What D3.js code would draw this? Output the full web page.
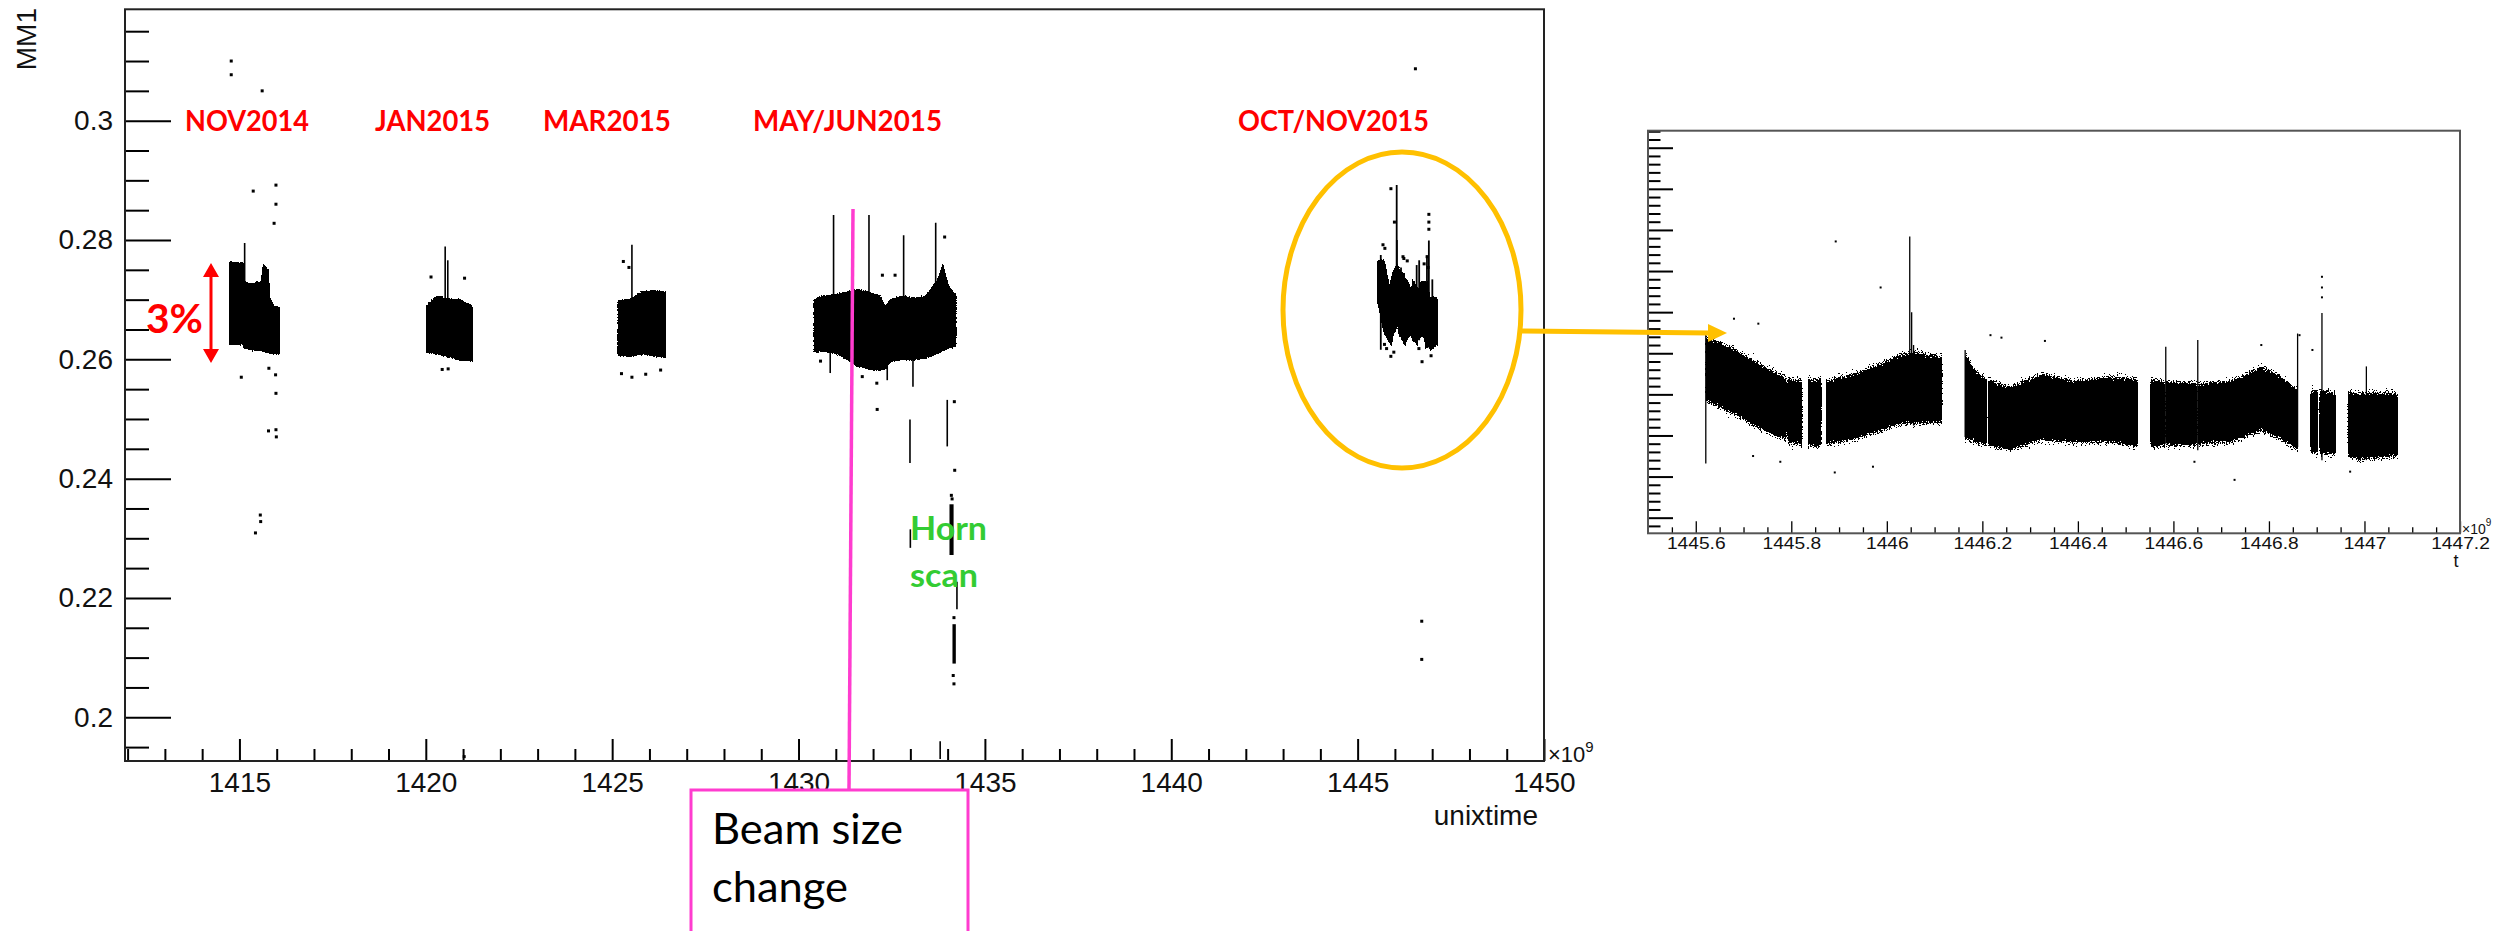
<!DOCTYPE html>
<html>
<head>
<meta charset="utf-8">
<script src="https://cdn.jsdelivr.net/npm/d3@7"></script>
<style>
  body { margin: 0; background: #fff; }
  svg { display: block; background: #fff; }
</style>
</head>
<body>
<svg id="chart" width="2498" height="931"></svg>
<script>
// unixtime in units of 1e9 s (x axis shows e.g. 1415), MM1 value on y

// main plot tick labels
const xTicks = [1415, 1420, 1425, 1430, 1435, 1440, 1445, 1450];
const yTicks = [0.2, 0.22, 0.24, 0.26, 0.28, 0.3];

// inset tick labels
const insetXTicks = [1445.6, 1445.8, 1446, 1446.2, 1446.4, 1446.6, 1446.8, 1447, 1447.2];
const insetYTicks = [0.255, 0.26, 0.265, 0.27, 0.275, 0.28, 0.285, 0.29, 0.295, 0.3];

// dense bands: [t, low, high]
const bandNov2014a = [[1414.75, 0.2626, 0.2763], [1415.09, 0.2626, 0.2760]];
const bandNov2014b = [[1415.13, 0.2620, 0.2728], [1415.35, 0.2616, 0.2726], [1415.60, 0.2616, 0.2730],
  [1415.65, 0.2614, 0.2757], [1415.76, 0.2613, 0.2750], [1415.80, 0.2612, 0.2705],
  [1415.89, 0.2610, 0.2690], [1416.06, 0.2610, 0.2685]];
const bandJan2015 = [[1420.04, 0.2612, 0.2690], [1420.30, 0.2610, 0.2705], [1420.60, 0.2605, 0.2700],
  [1420.90, 0.2600, 0.2700], [1421.24, 0.2598, 0.2688]];
const bandMar2015 = [[1425.17, 0.2608, 0.2697], [1425.50, 0.2606, 0.2700], [1425.80, 0.2610, 0.2712],
  [1426.10, 0.2607, 0.2714], [1426.42, 0.2604, 0.2712]];
const bandMayJun2015 = [[1430.43, 0.2613, 0.2700], [1430.64, 0.2615, 0.2705], [1431.02, 0.2610, 0.2708],
  [1431.33, 0.2600, 0.2712], [1431.56, 0.2590, 0.2716], [1431.87, 0.2585, 0.2712],
  [1432.18, 0.2582, 0.2705], [1432.33, 0.2585, 0.2686], [1432.48, 0.2598, 0.2700],
  [1432.79, 0.2600, 0.2705], [1433.10, 0.2600, 0.2702], [1433.41, 0.2603, 0.2705],
  [1433.72, 0.2610, 0.2730], [1433.87, 0.2615, 0.2755], [1434.02, 0.2620, 0.2720],
  [1434.21, 0.2622, 0.2708]];

// Oct/Nov 2015 run, shown in both the main plot and the inset
const octNovBands = [
  [[1445.622, 0.2695, 0.2766], [1445.678, 0.2680, 0.2752], [1445.734, 0.2662, 0.2733], [1445.789, 0.2648, 0.2717]],
  [[1445.793, 0.2645, 0.2716], [1445.822, 0.2642, 0.2713]],
  [[1445.836, 0.2641, 0.2714], [1445.862, 0.2640, 0.2715]],
  [[1445.874, 0.2642, 0.2713], [1445.937, 0.2650, 0.2722], [1445.991, 0.2660, 0.2735],
   [1446.030, 0.2668, 0.2745], [1446.057, 0.2668, 0.2748], [1446.115, 0.2669, 0.2742]],
  [[1446.165, 0.2650, 0.2745], [1446.185, 0.2645, 0.2725], [1446.209, 0.2642, 0.2715]],
  [[1446.213, 0.2641, 0.2714], [1446.257, 0.2636, 0.2705], [1446.324, 0.2648, 0.2721],
   [1446.391, 0.2645, 0.2713], [1446.471, 0.2645, 0.2717], [1446.524, 0.2640, 0.2715]],
  [[1446.553, 0.2640, 0.2715], [1446.582, 0.2641, 0.2712]],
  [[1446.586, 0.2641, 0.2712], [1446.649, 0.2642, 0.2710]],
  [[1446.653, 0.2642, 0.2709], [1446.724, 0.2646, 0.2713], [1446.784, 0.2660, 0.2730],
   [1446.820, 0.2650, 0.2720], [1446.860, 0.2636, 0.2701]],
  [[1446.888, 0.2632, 0.2700], [1446.902, 0.2632, 0.2702]],
  [[1446.907, 0.2630, 0.2702], [1446.939, 0.2632, 0.2698]],
  [[1446.966, 0.2628, 0.2700], [1446.990, 0.2624, 0.2697], [1447.030, 0.2627, 0.2699], [1447.069, 0.2628, 0.2697]]
];
const octNovSpikes = [[1445.621, 0.2616, 0.2775], [1446.048, 0.2670, 0.2892], [1446.052, 0.2665, 0.2800],
  [1446.056, 0.2662, 0.2760], [1446.164, 0.2648, 0.2754], [1446.584, 0.2640, 0.2758],
  [1446.651, 0.2632, 0.2766], [1446.860, 0.2636, 0.2774], [1446.911, 0.2620, 0.2799],
  [1447.004, 0.2620, 0.2734]];
const octNovPoints = [[1445.893, 0.2886], [1445.987, 0.2830], [1445.680, 0.2792], [1445.731, 0.2786],
  [1446.217, 0.2772], [1446.240, 0.2769], [1446.331, 0.2765], [1446.784, 0.2760], [1446.864, 0.2772],
  [1446.891, 0.2754], [1446.911, 0.2843], [1446.911, 0.2830], [1446.911, 0.2818],
  [1445.720, 0.2625], [1445.891, 0.2605], [1445.971, 0.2612], [1446.728, 0.2596], [1446.970, 0.2606],
  [1446.644, 0.2618], [1445.777, 0.2618], [1446.550, 0.3087], [1446.720, 0.2161], [1446.720, 0.2097]];

// thin vertical runs elsewhere in the main plot: [t, low, high]
const mainSpikes = [[1415.14, 0.2640, 0.2795], [1420.52, 0.2650, 0.2789], [1420.59, 0.2650, 0.2766],
  [1425.53, 0.2650, 0.2792], [1430.94, 0.2640, 0.2842], [1431.89, 0.2640, 0.2842],
  [1432.82, 0.2640, 0.2808], [1433.68, 0.2650, 0.2829], [1430.85, 0.2577, 0.2620],
  [1432.38, 0.2565, 0.2600], [1433.07, 0.2554, 0.2600], [1432.99, 0.2426, 0.2499],
  [1433.99, 0.2454, 0.2532], [1433.00, 0.2284, 0.2315], [1434.25, 0.2181, 0.2227],
  [1433.80, 0.1930, 0.1960]];
// horn scan blocks: [t0, t1, low, high]
const hornBlocks = [[1434.05, 1434.16, 0.2272, 0.2357], [1434.13, 1434.22, 0.2090, 0.2156]];
// isolated points: [t, value]
const mainPoints = [[1414.78, 0.3100], [1414.78, 0.3077], [1415.61, 0.3050], [1415.37, 0.2882],
  [1415.98, 0.2892], [1415.98, 0.2860], [1415.93, 0.2828], [1415.05, 0.2570], [1415.79, 0.2585],
  [1415.97, 0.2574], [1415.98, 0.2543], [1415.78, 0.2480], [1415.98, 0.2482], [1415.99, 0.2470],
  [1415.56, 0.2339], [1415.57, 0.2328], [1415.43, 0.2309],
  [1420.44, 0.2583], [1420.14, 0.2738], [1421.04, 0.2736], [1420.60, 0.2584],
  [1425.25, 0.2576], [1425.53, 0.2570], [1425.90, 0.2575], [1426.30, 0.2582], [1425.30, 0.2764], [1425.45, 0.2754],
  [1431.71, 0.2571], [1432.10, 0.2560], [1430.59, 0.2597], [1432.25, 0.2741], [1432.59, 0.2741], [1433.92, 0.2805],
  [1432.11, 0.2516], [1434.18, 0.2529], [1434.19, 0.2414], [1434.10, 0.2372], [1434.12, 0.2366],
  [1434.17, 0.2167], [1434.17, 0.2056], [1434.15, 0.2070], [1421.03, 0.1934]];

const svg = d3.select("#chart");
const defs = svg.append("defs");
const helv = "'Liberation Sans', Arial, sans-serif";
const calib = "Lato, 'Noto Sans', sans-serif";

// speckled top/bottom edges for the dense scatter bands: vertical blur + fixed noise, then thresholded
function speckle(id, blur, freq, spread) {
  const f = defs.append("filter").attr("id", id).attr("filterUnits", "userSpaceOnUse")
    .attr("x", 0).attr("y", 0).attr("width", 2498).attr("height", 931);
  f.append("feGaussianBlur").attr("in", "SourceAlpha").attr("stdDeviation", `0 ${blur}`).attr("result", "b");
  f.append("feTurbulence").attr("type", "fractalNoise").attr("baseFrequency", freq)
    .attr("numOctaves", 1).attr("seed", 7).attr("result", "n");
  f.append("feComposite").attr("in", "b").attr("in2", "n").attr("operator", "arithmetic")
    .attr("k1", 0).attr("k2", 2.2).attr("k3", -2).attr("k4", spread).attr("result", "m");
  const ct = f.append("feComponentTransfer").attr("in", "m");
  ["feFuncR", "feFuncG", "feFuncB"].forEach(c => ct.append(c).attr("type", "linear").attr("slope", 0).attr("intercept", 0));
  ct.append("feFuncA").attr("type", "discrete").attr("tableValues", "0 1");
}
speckle("speckMain", 1.6, 0.8, 0.5);
speckle("speckInset", 6, 0.75, 0.8);

// ---------- main plot ----------
const x = d3.scaleLinear().domain([1411.93, 1450]).range([125, 1544]);
const y = d3.scaleLinear().domain([0.19267, 0.31867]).range([761, 9.3]);

defs.append("clipPath").attr("id", "mainClip")
  .append("rect").attr("x", x.range()[0]).attr("y", y.range()[1])
  .attr("width", x.range()[1] - x.range()[0]).attr("height", y.range()[0] - y.range()[1]);

function drawData(g, xs, ys, bands, spikes, points, opt) {
  const area = d3.area().x(d => xs(d[0])).y0(d => ys(d[1])).y1(d => ys(d[2]));
  const gb = g.append("g").attr("filter", `url(#${opt.filter})`);
  bands.forEach(b => {
    gb.append("path").attr("d", area(b)).attr("fill", "#000")
      .attr("stroke", "#000").attr("stroke-width", opt.grow);
  });
  g.selectAll(null).data(spikes).join("line")
    .attr("x1", d => xs(d[0])).attr("x2", d => xs(d[0]))
    .attr("y1", d => ys(d[1])).attr("y2", d => ys(d[2]))
    .attr("stroke", "#000").attr("stroke-width", opt.spike);
  g.selectAll(null).data(points).join("rect")
    .attr("x", d => xs(d[0]) - opt.dot / 2).attr("y", d => ys(d[1]) - opt.dot / 2)
    .attr("width", opt.dot).attr("height", opt.dot).attr("fill", "#000");
}

const mainData = svg.append("g").attr("clip-path", "url(#mainClip)");
drawData(mainData, x, y,
  [bandNov2014a, bandNov2014b, bandJan2015, bandMar2015, bandMayJun2015],
  mainSpikes, mainPoints, { filter: "speckMain", grow: 2, spike: 1.6, dot: 3 });
drawData(mainData, x, y, octNovBands, octNovSpikes, octNovPoints,
  { filter: "speckMain", grow: 7, spike: 1.8, dot: 3 });
mainData.selectAll(null).data(hornBlocks).join("rect")
  .attr("x", d => x(d[0])).attr("width", d => x(d[1]) - x(d[0]))
  .attr("y", d => y(d[3])).attr("height", d => y(d[2]) - y(d[3])).attr("fill", "#000");

function styleAxis(g, size, width) {
  g.select(".domain").remove();
  g.attr("font-size", size).attr("font-family", helv);
  g.selectAll("line").attr("stroke", "#000").attr("stroke-width", width);
  g.selectAll("text").attr("fill", "#111");
}

const xMinor = d3.range(1412, 1450).filter(v => v % 5 !== 0);
const yMinor = d3.range(39, 64).map(i => i * 0.005).filter(v => !yTicks.some(t => Math.abs(t - v) < 1e-6));

svg.append("g").attr("transform", `translate(0,${y.range()[0]})`)
  .call(d3.axisBottom(x).tickValues(xMinor).tickSize(-12).tickFormat(""))
  .call(g => styleAxis(g, 28, 2));
svg.append("g").attr("transform", `translate(0,${y.range()[0]})`)
  .call(d3.axisBottom(x).tickValues(xTicks).tickSize(-22).tickPadding(11).tickFormat(d3.format("d")))
  .call(g => styleAxis(g, 28, 2));
svg.append("g").attr("transform", `translate(${x.range()[0]},0)`)
  .call(d3.axisLeft(y).tickValues(yMinor).tickSize(-24).tickFormat(""))
  .call(g => styleAxis(g, 28, 2));
svg.append("g").attr("transform", `translate(${x.range()[0]},0)`)
  .call(d3.axisLeft(y).tickValues(yTicks).tickSize(-46).tickPadding(12).tickFormat(d => String(+d.toFixed(3))))
  .call(g => styleAxis(g, 28, 2));

svg.append("rect").attr("x", x.range()[0]).attr("y", y.range()[1])
  .attr("width", x.range()[1] - x.range()[0]).attr("height", y.range()[0] - y.range()[1])
  .attr("fill", "none").attr("stroke", "#222").attr("stroke-width", 2);

svg.append("text").attr("transform", "translate(36,8) rotate(-90)")
  .attr("text-anchor", "end").attr("font-family", helv).attr("font-size", 28).attr("fill", "#111")
  .text("MM1");
svg.append("text").attr("x", 1538).attr("y", 825).attr("text-anchor", "end")
  .attr("font-family", helv).attr("font-size", 28).attr("fill", "#111").text("unixtime");
const e9 = svg.append("text").attr("x", 1548).attr("y", 762)
  .attr("font-family", helv).attr("font-size", 22).attr("fill", "#111");
e9.append("tspan").text("\u00d710");
e9.append("tspan").attr("dy", -10).attr("font-size", 15).text("9");

// ---------- inset (Oct/Nov 2015 zoom) ----------
const xi = d3.scaleLinear().domain([1445.5, 1447.2]).range([1648, 2460]);
const yi = d3.scaleLinear().domain([0.2531, 0.30207]).range([533.3, 130.7]);

defs.append("clipPath").attr("id", "insetClip")
  .append("rect").attr("x", xi.range()[0]).attr("y", yi.range()[1])
  .attr("width", xi.range()[1] - xi.range()[0]).attr("height", yi.range()[0] - yi.range()[1]);
defs.append("clipPath").attr("id", "insetLabelClip")
  .append("rect").attr("x", 1639).attr("y", 0).attr("width", 9).attr("height", 931);

const insetData = svg.append("g").attr("clip-path", "url(#insetClip)");
drawData(insetData, xi, yi, octNovBands, octNovSpikes, octNovPoints,
  { filter: "speckInset", grow: 1, spike: 1.3, dot: 2 });

const xiMinor = d3.range(28911, 28944).map(i => i / 20).filter(v => Math.abs(v * 5 - Math.round(v * 5)) > 1e-6);
const yiMinor = d3.range(254, 303).map(i => i / 1000).filter(v => Math.abs(v * 200 - Math.round(v * 200)) > 1e-6);

// the inset picture was squashed vertically, so its labels look wide
function widen(g) { g.selectAll("text").attr("transform", "scale(1.2,1)"); }

svg.append("g").attr("transform", `translate(0,${yi.range()[0]})`)
  .call(d3.axisBottom(xi).tickValues(xiMinor).tickSize(-6).tickFormat(""))
  .call(g => styleAxis(g, 16, 1.3));
svg.append("g").attr("transform", `translate(0,${yi.range()[0]})`)
  .call(d3.axisBottom(xi).tickValues(insetXTicks).tickSize(-12).tickPadding(4).tickFormat(d => String(+d.toFixed(1))))
  .call(g => styleAxis(g, 16, 1.3)).call(widen);
svg.append("g").attr("transform", `translate(${xi.range()[0]},0)`)
  .call(d3.axisLeft(yi).tickValues(yiMinor).tickSize(-12.5).tickFormat(""))
  .call(g => styleAxis(g, 16, 2));
svg.append("g").attr("transform", `translate(${xi.range()[0]},0)`)
  .call(d3.axisLeft(yi).tickValues(insetYTicks).tickSize(-25).tickFormat(""))
  .call(g => styleAxis(g, 16, 2));
// y labels of the inset are cut off by the crop, only their right edge shows
svg.append("g").attr("transform", `translate(${xi.range()[0]},0)`).attr("clip-path", "url(#insetLabelClip)")
  .call(d3.axisLeft(yi).tickValues(insetYTicks).tickSize(0).tickPadding(5).tickFormat(d => String(+d.toFixed(3))))
  .call(g => styleAxis(g, 16, 0));

svg.append("rect").attr("x", xi.range()[0]).attr("y", yi.range()[1])
  .attr("width", xi.range()[1] - xi.range()[0]).attr("height", yi.range()[0] - yi.range()[1])
  .attr("fill", "none").attr("stroke", "#555").attr("stroke-width", 2);

const e9i = svg.append("text").attr("x", 2462).attr("y", 534)
  .attr("font-family", helv).attr("font-size", 14).attr("fill", "#111");
e9i.append("tspan").text("\u00d710");
e9i.append("tspan").attr("dy", -8).attr("font-size", 10).text("9");
svg.append("text").attr("x", 2456).attr("y", 567).attr("text-anchor", "middle")
  .attr("font-family", helv).attr("font-size", 18).attr("fill", "#111").text("t");

// ---------- annotations ----------
const red = "#ff0000", gold = "#ffc000", pink = "#ff3ccf", green = "#33cc33";

const periodLabels = ["NOV2014", "JAN2015", "MAR2015", "MAY/JUN2015", "OCT/NOV2015"];
const periodX = [185, 375, 543, 753, 1238];
const periodW = [124, 115, 128, 189, 191];
svg.selectAll(null).data(periodLabels).join("text")
  .attr("x", (d, i) => periodX[i]).attr("y", 131)
  .attr("textLength", (d, i) => periodW[i]).attr("lengthAdjust", "spacingAndGlyphs")
  .attr("font-family", calib).attr("font-weight", 700).attr("font-size", 29).attr("fill", red)
  .text(d => d);

// 3% double arrow
svg.append("line").attr("x1", 211).attr("x2", 211).attr("y1", 274).attr("y2", 352)
  .attr("stroke", red).attr("stroke-width", 3);
svg.append("path").attr("d", "M211,263 L203,277 L219,277 Z M211,363 L203,349 L219,349 Z").attr("fill", red);
svg.append("text").attr("x", 146).attr("y", 333).attr("textLength", 57).attr("lengthAdjust", "spacingAndGlyphs")
  .attr("font-family", calib).attr("font-weight", 700).attr("font-size", 40).attr("fill", red).text("3%");

// horn scan
const horn = svg.append("text").attr("font-family", calib).attr("font-weight", 700)
  .attr("font-size", 32).attr("fill", green);
horn.append("tspan").attr("x", 910).attr("y", 540).attr("textLength", 77).attr("lengthAdjust", "spacingAndGlyphs").text("Horn");
horn.append("tspan").attr("x", 910).attr("y", 587).attr("textLength", 68).attr("lengthAdjust", "spacingAndGlyphs").text("scan");

// beam size change callout
svg.append("line").attr("x1", 853).attr("y1", 209).attr("x2", 849).attr("y2", 790)
  .attr("stroke", pink).attr("stroke-width", 3.5);
svg.append("rect").attr("x", 691).attr("y", 790).attr("width", 277).attr("height", 200)
  .attr("fill", "#fff").attr("stroke", pink).attr("stroke-width", 3);
const beam = svg.append("text").attr("font-family", calib).attr("font-size", 42).attr("fill", "#000");
beam.append("tspan").attr("x", 712).attr("y", 844).attr("textLength", 191).attr("lengthAdjust", "spacingAndGlyphs").text("Beam size");
beam.append("tspan").attr("x", 712).attr("y", 902).attr("textLength", 136).attr("lengthAdjust", "spacingAndGlyphs").text("change");

// zoom ellipse and connector
svg.append("ellipse").attr("cx", 1402).attr("cy", 310).attr("rx", 119).attr("ry", 158)
  .attr("fill", "none").attr("stroke", gold).attr("stroke-width", 5);
svg.append("line").attr("x1", 1520).attr("y1", 331).attr("x2", 1710).attr("y2", 333)
  .attr("stroke", gold).attr("stroke-width", 5);
svg.append("path").attr("d", "M1727,333 L1708,324 L1708,342 Z").attr("fill", gold);
</script>
</body>
</html>
